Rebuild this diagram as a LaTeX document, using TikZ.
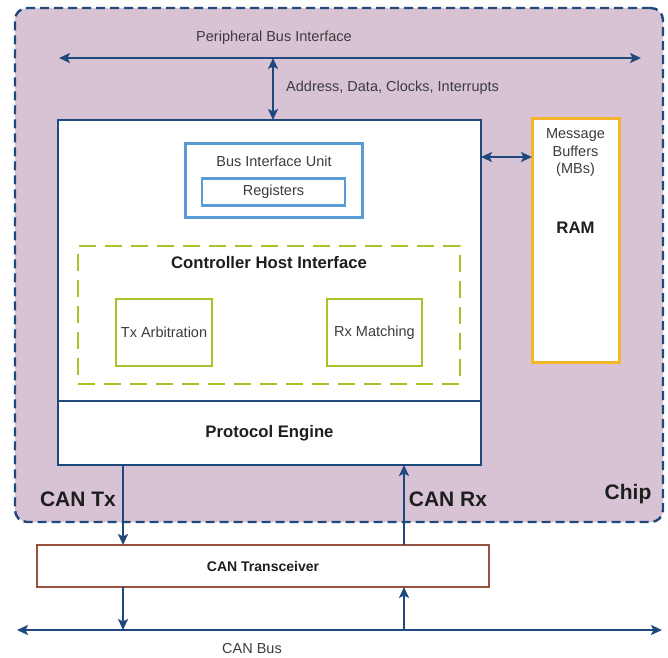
\documentclass[tikz,border=0pt]{standalone}
\usepackage{fontspec}
\setmainfont{Liberation Sans}
\usetikzlibrary{arrows.meta}
\definecolor{navy}{RGB}{31,73,125}
\definecolor{chipfill}{RGB}{216,195,213}
\definecolor{lblue}{RGB}{91,155,213}
\definecolor{olive}{RGB}{172,192,42}
\definecolor{gold}{RGB}{247,182,42}
\definecolor{brownc}{RGB}{150,82,62}
\definecolor{txtgray}{RGB}{60,60,60}
\definecolor{txtdark}{RGB}{30,30,30}
\begin{document}
\begin{tikzpicture}[x=1pt,y=-1pt,
  box/.style={draw, inner sep=0pt, outer sep=0pt},
  reg/.style={font=\fontsize{14.5}{17.5}\selectfont, text=txtgray, inner sep=0pt},
  bld/.style={font=\bfseries\fontsize{16.7}{20}\selectfont, text=txtdark, inner sep=0pt},
  big/.style={font=\bfseries\fontsize{21}{24}\selectfont, text=txtdark, inner sep=0pt},
  chipbox/.style={box, draw=navy, fill=chipfill, line width=2.4pt, rounded corners=12pt, dash pattern=on 9pt off 5pt},
  corebox/.style={box, draw=navy, fill=white, line width=2.2pt},
  biubox/.style={box, draw=lblue, fill=white, line width=2.4pt},
  chibox/.style={box, draw=olive, line width=2.6pt, dash pattern=on 17pt off 9pt},
  olbox/.style={box, draw=olive, fill=white, line width=2.6pt},
  rambox/.style={box, draw=gold, fill=white, line width=3pt},
  trxbox/.style={box, draw=brownc, fill=white, line width=2.6pt},
  tip/.tip={Stealth[length=11pt,width=10pt,inset=2.5pt]},
  arr/.style={draw=navy, line width=2.8pt, -tip},
  dbl/.style={draw=navy, line width=2.8pt, tip-tip}
]
\useasboundingbox (0,0) rectangle (668,657);
% chip
\node[chipbox, minimum width=648pt, minimum height=514pt] (chip) at (339,265) {};
% peripheral bus
\coordinate (pbL) at (59,58);
\coordinate (pbR) at (641,58);
\draw[dbl] (pbL) -- (pbR);
\node[reg] (pbt) at (274,38) {Peripheral Bus Interface};
% core
\node[corebox, minimum width=423pt, minimum height=281pt] (host) at (269.5,260.5) {};
\node[corebox, minimum width=423pt, minimum height=64pt, bld] (pe) at (269.5,433) {Protocol Engine};
\coordinate (ax) at (273,58);
\draw[dbl] (ax) -- (ax |- host.north);
\node[reg, anchor=west] (addr) at (286,88) {Address, Data, Clocks, Interrupts};
% BIU
\node[biubox, minimum width=177pt, minimum height=74pt] (biu) at (274,180.5) {};
\node[reg] (biut) at (274,161) {Bus Interface Unit};
\node[biubox, line width=2.2pt, minimum width=143pt, minimum height=27pt, reg] (regs) at (273.5,192) {Registers};
% CHI
\node[chibox, minimum width=382pt, minimum height=138pt] (chi) at (269,315) {};
\node[bld] (chit) at (269,263) {Controller Host Interface};
\node[olbox, minimum width=96pt, minimum height=67pt, reg] (tx) at (164,332.5) {Tx Arbitration};
\node[olbox, minimum width=95pt, minimum height=67pt, reg] (rx) at (374.5,332.5) {Rx Matching};
% RAM
\node[rambox, minimum width=87pt, minimum height=244pt] (ram) at (575.5,240) {};
\node[reg, align=center] (mb) at (575.5,153) {Message\\Buffers\\(MBs)};
\node[bld] (ramt) at (575.5,228) {RAM};
\coordinate (ry) at (0,157);
\draw[dbl] (host.east |- ry) -- (ram.west |- ry);
% labels
\node[big] (chipt) at (628,494) {Chip};
\node[big] (cantx) at (78,499) {CAN Tx};
\node[big] (canrx) at (448,499) {CAN Rx};
% transceiver
\node[trxbox, minimum width=452pt, minimum height=42pt, font=\bfseries\fontsize{14}{16}\selectfont, text=txtdark] (trx) at (263,566) {CAN Transceiver};
% CAN bus
\coordinate (busL) at (17,630);
\coordinate (busR) at (662,630);
\draw[dbl] (busL) -- (busR);
\node[reg] (bust) at (252,648) {CAN Bus};
% Tx / Rx arrows
\coordinate (txx) at (123,0);
\coordinate (rxx) at (404,0);
\draw[arr] (pe.south -| txx) -- (trx.north -| txx);
\draw[arr] (trx.south -| txx) -- (busL -| txx);
\draw[arr] (trx.north -| rxx) -- (pe.south -| rxx);
\draw[arr] (busL -| rxx) -- (trx.south -| rxx);
\end{tikzpicture}
\end{document}
